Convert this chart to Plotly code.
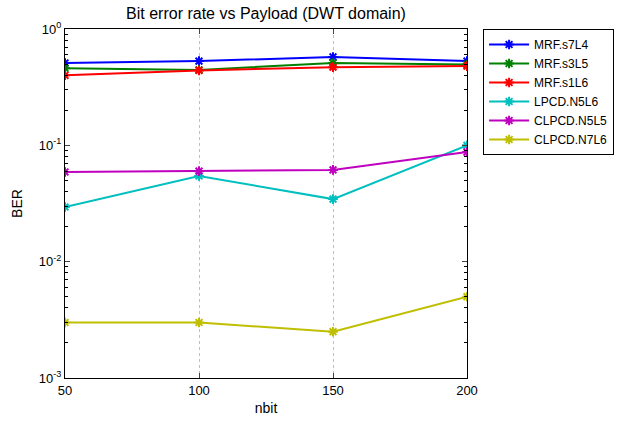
import plotly.graph_objects as go

nbit = [50, 100, 150, 200]
series_names = ["MRF.s7L4", "MRF.s3L5", "MRF.s1L6", "LPCD.N5L6", "CLPCD.N5L5", "CLPCD.N7L6"]
mrf_s7l4 = [0.51, 0.53, 0.575, 0.53]
mrf_s3l5 = [0.46, 0.445, 0.51, 0.495]
mrf_s1l6 = [0.40, 0.44, 0.47, 0.48]
lpcd_n5l6 = [0.0295, 0.0545, 0.0345, 0.10]
clpcd_n5l5 = [0.059, 0.060, 0.0615, 0.0875]
clpcd_n7l6 = [0.0030, 0.0030, 0.0025, 0.0050]
colors = ["#0000FF", "#008000", "#FF0000", "#00BFBF", "#BF00BF", "#BFBF00"]
y_ticks = [1e-3, 1e-2, 1e-1, 1]
y_tick_text = ["10<sup>-3</sup>", "10<sup>-2</sup>", "10<sup>-1</sup>", "10<sup>0</sup>"]

all_series = [mrf_s7l4, mrf_s3l5, mrf_s1l6, lpcd_n5l6, clpcd_n5l5, clpcd_n7l6]

fig = go.Figure()
for name, vals, c in zip(series_names, all_series, colors):
    fig.add_trace(go.Scatter(
        x=nbit, y=vals, name=name, mode="lines+markers",
        line=dict(color=c, width=2),
        marker=dict(symbol="asterisk-open", size=8, color=c, line=dict(color=c, width=2)),
    ))

minor_vals = [m * 10 ** e for e in (-3, -2, -1) for m in range(2, 10)]

fig.update_layout(
    width=621, height=421,
    margin=dict(l=65, r=154, t=29, b=43, autoexpand=False),
    paper_bgcolor="white", plot_bgcolor="white",
    font=dict(family="Liberation Sans, Arial, sans-serif", size=13, color="black"),
    title=dict(text="Bit error rate vs Payload (DWT domain)", x=0.5, xref="paper", xanchor="center",
               y=1 - 13 / 421, yref="container", yanchor="middle", font=dict(size=16)),
    showlegend=True,
    legend=dict(x=1.04, y=1.0, xanchor="left", yanchor="top",
                bordercolor="black", borderwidth=1, bgcolor="white",
                font=dict(size=12), tracegroupgap=0, itemwidth=40),
    xaxis=dict(
        title=dict(text="nbit", standoff=6, font=dict(size=14)),
        range=[50, 200], tickvals=nbit, ticks="inside", ticklen=5,
        showline=True, linecolor="black", linewidth=1, mirror="ticks",
        showgrid=True, gridcolor="#c0c0c0", griddash="dot", gridwidth=1,
        zeroline=False, tickfont=dict(size=13),
    ),
    yaxis=dict(
        title=dict(text="BER", standoff=12, font=dict(size=14)),
        type="log", range=[-3, 0], tickvals=y_ticks, ticktext=y_tick_text,
        ticks="inside", ticklen=5,
        showline=True, linecolor="black", linewidth=1, mirror="ticks",
        showgrid=False, zeroline=False, tickfont=dict(size=13),
        minor=dict(tickvals=minor_vals, ticks="inside", ticklen=3, tickcolor="black", showgrid=False),
    ),
)

fig.write_html("out.html")
